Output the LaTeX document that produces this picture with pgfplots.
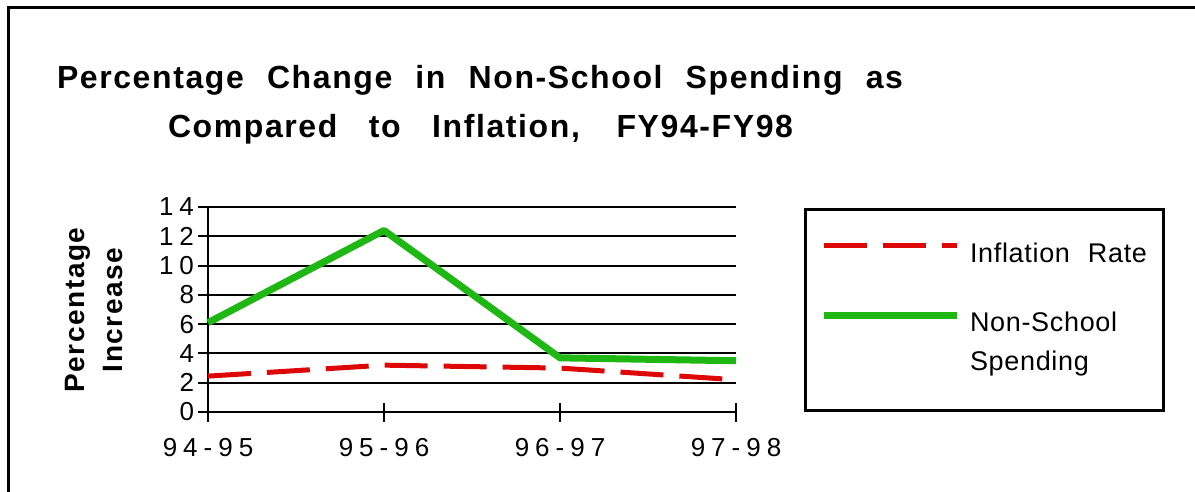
\documentclass[border=0pt]{standalone}
\usepackage{pgfplots}
\pgfplotsset{compat=1.18}
\usepackage{fontspec}
\setmainfont{Liberation Sans}
\newfontfamily\titlefont[LetterSpace=5]{Liberation Sans}
\newfontfamily\ylabfont[LetterSpace=5.5]{Liberation Sans}
\newfontfamily\legfont[LetterSpace=2.5,WordSpace=2.2]{Liberation Sans}
\definecolor{macred}{HTML}{DD0806}
\definecolor{macgreen}{HTML}{1FB714}
\newcommand\g{\kern6pt}
\begin{document}
\begin{tikzpicture}[x=1pt,y=1pt]
\useasboundingbox (0,0) rectangle (1195,-491);
\draw[line width=3pt] (8,-500) -- (8,-7) -- (1200,-7);
\node[font=\titlefont\bfseries\fontsize{32}{36}\selectfont, anchor=base, inner sep=0pt] at (480,-88) {\makebox[846pt][s]{Percentage Change in Non-School Spending as}};
\node[font=\titlefont\bfseries\fontsize{32}{36}\selectfont, anchor=base, inner sep=0pt] at (480.5,-137) {\makebox[625pt][s]{Compared to Inflation, FY94-FY98}};
\node[font=\ylabfont\bfseries\fontsize{28}{30}\selectfont, rotate=90, anchor=base, inner sep=0pt] at (84,-310) {Percentage};
\node[font=\ylabfont\bfseries\fontsize{28}{30}\selectfont, rotate=90, anchor=base, inner sep=0pt] at (122.5,-310) {Increase};
\draw[line width=3pt] (805,-209) rectangle (1163,-410);
\begin{axis}[
  at={(208pt,-412pt)}, anchor=south west,
  scale only axis, width=528pt, height=205pt,
  xmin=0, xmax=3, ymin=0, ymax=14,
  axis x line*=bottom, axis y line*=left,
  axis line style={line width=2pt, black, -},
  xtick={0,1,2,3}, xticklabels={9\g4\g-\g9\g5,9\g5\g-\g9\g6,9\g6\g-\g9\g7,9\g7\g-\g9\g8},
  ytick={0,2,...,14}, yticklabels={0,2,4,6,8,1\g0,1\g2,1\g4},
  tick align=center, major tick length=19pt,
  tick style={line width=2pt, black},
  ymajorgrids, grid style={line width=2pt, black},
  ticklabel style={font=\fontsize{26}{26}\selectfont},
  xticklabel style={yshift=-13pt},
  yticklabel style={xshift=-1pt},
  clip=false,
  legend style={at={(1.1591,0.8376)}, anchor=north west, draw=none, fill=none,
    inner sep=0pt, outer sep=0pt, font=\legfont\fontsize{27}{38.4}\selectfont,
    cells={anchor=base west, inner sep=0pt, outer sep=0pt, text height=20pt, text depth=0pt},
    row sep=44pt, column sep=8pt},
  legend image code/.code={\draw[#1] (0pt,16.5pt) -- (133pt,16.5pt);},
]
\addplot[macred, line width=5pt, dash pattern=on 43pt off 16pt] coordinates {(0,2.45) (1,3.2) (2,3.0) (3,2.2)};
\addlegendentry{Inflation Rate}
\addplot[macgreen, line width=7pt, line join=round] coordinates {(0,6.1) (1,12.4) (2,3.7) (3,3.5)};
\addlegendentry{\vtop{\hbox{Non-School}\hbox{Spending}}}
\end{axis}
\end{tikzpicture}
\end{document}
